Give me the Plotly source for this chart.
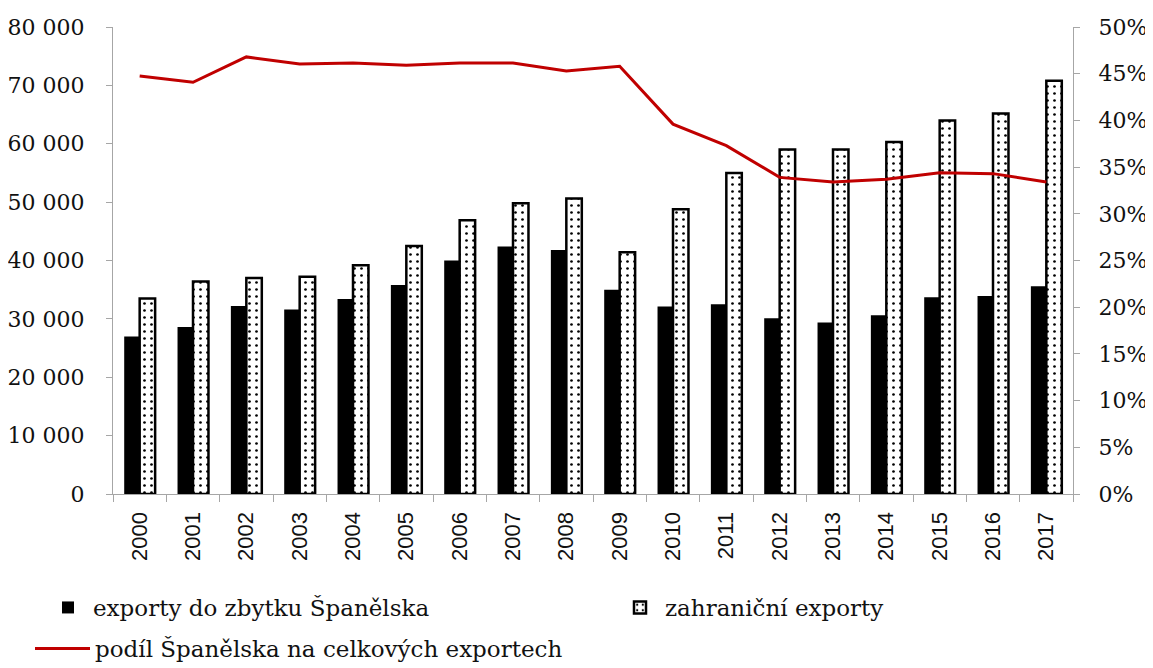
import plotly.graph_objects as go

years = [str(y) for y in range(2000, 2018)]
exports_spain = [27000, 28600, 32200, 31600, 33400, 35800, 40000, 42400, 41800,
                 35000, 32100, 32500, 30100, 29400, 30600, 33700, 33900, 35600]
exports_foreign = [33500, 36400, 37000, 37200, 39200, 42500, 46900, 49800, 50600,
                   41400, 48800, 55000, 59000, 59000, 60300, 64000, 65200, 70800]
share_spain = [0.4475, 0.4408, 0.468, 0.4604, 0.4615, 0.459, 0.4615, 0.4615, 0.453,
               0.458, 0.396, 0.373, 0.339, 0.334, 0.337, 0.344, 0.343, 0.334]

names = ["exporty do zbytku Španělska", "zahraniční exporty",
         "podíl Španělska na celkových exportech"]

serif = "DejaVu Serif"
sans = "Liberation Sans"
axis_grey = "#a6a6a6"
W, H = 1140, 656

fig = go.Figure()
fig.add_trace(go.Bar(
    x=years, y=exports_spain, name=names[0],
    marker=dict(color="black", line=dict(color="black", width=0)),
    legend="legend",
))
fig.add_trace(go.Bar(
    x=years, y=exports_foreign, name=names[1],
    marker=dict(color="white", line=dict(color="black", width=2.5),
                pattern=dict(shape=".", fgcolor="black", bgcolor="white",
                             size=7, solidity=0.12, fillmode="replace")),
    legend="legend2",
))
fig.add_trace(go.Scatter(
    x=years, y=share_spain, name=names[2], yaxis="y2", mode="lines",
    line=dict(color="#C00000", width=3),
    legend="legend3",
))

def leg(xpx, top_px, itemwidth):
    return dict(
        orientation="h", xref="container", yref="container",
        x=xpx / W, y=1 - top_px / H, xanchor="left", yanchor="top",
        font=dict(family=serif, size=23, color="#111"), itemwidth=itemwidth,
        bgcolor="rgba(0,0,0,0)",
    )

fig.update_layout(
    width=W, height=H,
    margin=dict(l=105, r=W + 8 - 1073, t=19, b=H + 8 - 494),
    paper_bgcolor="white", plot_bgcolor="white",
    separators=", ",
    barmode="group", bargap=0.42, bargroupgap=0,
    font=dict(family=serif, size=22, color="#111"),
    xaxis=dict(
        type="category", showline=True, linecolor=axis_grey, linewidth=1.3,
        ticks="outside", tickson="boundaries", ticklen=7, tickcolor=axis_grey,
        tickangle=-90, tickfont=dict(family=sans, size=22, color="#111"),
        ticklabelstandoff=8, automargin=False,
        showgrid=False, zeroline=False,
    ),
    yaxis=dict(
        range=[0, 80000], dtick=10000, tickformat=",d",
        showline=True, linecolor=axis_grey, linewidth=1.3,
        ticks="outside", ticklen=6, tickcolor=axis_grey,
        ticklabelstandoff=17, automargin=False,
        showgrid=False, zeroline=False,
        tickfont=dict(family=serif, size=22, color="#111"),
    ),
    yaxis2=dict(
        range=[0, 0.5], dtick=0.05, tickformat=".0%", overlaying="y", side="right",
        showline=True, linecolor=axis_grey, linewidth=1.3,
        ticks="outside", ticklen=6, tickcolor=axis_grey,
        ticklabelstandoff=14, automargin=False,
        showgrid=False, zeroline=False,
        tickfont=dict(family=serif, size=22, color="#111"),
    ),
    legend=leg(35, 578, 40),
    legend2=leg(607, 578, 40),
    legend3=leg(22, 619, 55),
    showlegend=True,
)

fig.write_html("out.html")
